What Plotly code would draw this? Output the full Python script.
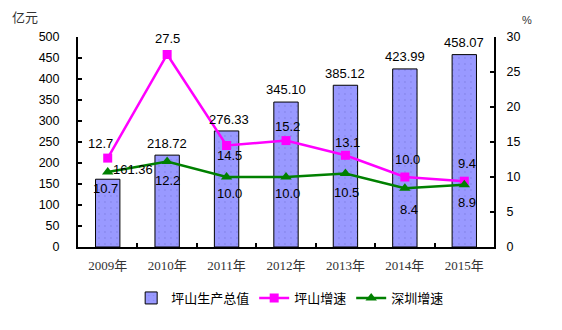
import plotly.graph_objects as go

# Data
years = ["2009年", "2010年", "2011年", "2012年", "2013年", "2014年", "2015年"]
gdp = [161.36, 218.72, 276.33, 345.10, 385.12, 423.99, 458.07]
gdp_text = ["161.36", "218.72", "276.33", "345.10", "385.12", "423.99", "458.07"]
ps_growth = [12.7, 27.5, 14.5, 15.2, 13.1, 10.0, 9.4]
sz_growth = [10.7, 12.2, 10.0, 10.0, 10.5, 8.4, 8.9]

# Label offsets in pixels (dx, dy) relative to each mark
gdp_off = [(25, 10), (0, 12), (2, 11), (0, 13), (0, 12), (0, 12), (0, 12)]
ps_off = [(-7, 15), (0, 16), (3, -10), (1, 14), (2, 13), (3, 18), (3, 18)]
sz_off = [(-2, -16), (0, -19), (3, -16), (1, -16), (1, -18.5), (4, -21), (3, -18)]

num_font = dict(family="Liberation Sans, Arial", size=13, color="#000000")
cjk_font = dict(family="Noto Sans CJK SC", size=13, color="#000000")

fig = go.Figure()

fig.add_trace(go.Bar(
    x=years, y=gdp, name="坪山生产总值",
    marker=dict(
        color="#9999ff",
        line=dict(color="#000000", width=1),
        pattern=dict(shape=".", fgcolor="#7a7ae0", bgcolor="#9999ff", size=6, solidity=0.08),
    ),
    width=0.41,
    yaxis="y",
))

fig.add_trace(go.Scatter(
    x=years, y=ps_growth, name="坪山增速", mode="lines+markers",
    line=dict(color="#ff00ff", width=2.5),
    marker=dict(symbol="square", size=9, color="#ff00ff"),
    yaxis="y2",
))

fig.add_trace(go.Scatter(
    x=years, y=sz_growth, name="深圳增速", mode="lines+markers",
    line=dict(color="#008000", width=2.5),
    marker=dict(symbol="triangle-up", size=10, color="#008000"),
    yaxis="y2",
))

annotations = []
for i, yr in enumerate(years):
    dx, dy = gdp_off[i]
    annotations.append(dict(x=yr, y=gdp[i], yref="y", xref="x", text=gdp_text[i],
                            showarrow=False, xshift=dx, yshift=dy, font=num_font,
                            xanchor="center", yanchor="middle"))
    dx, dy = ps_off[i]
    annotations.append(dict(x=yr, y=ps_growth[i], yref="y2", xref="x", text=f"{ps_growth[i]:.1f}",
                            showarrow=False, xshift=dx, yshift=dy, font=num_font,
                            xanchor="center", yanchor="middle"))
    dx, dy = sz_off[i]
    annotations.append(dict(x=yr, y=sz_growth[i], yref="y2", xref="x", text=f"{sz_growth[i]:.1f}",
                            showarrow=False, xshift=dx, yshift=dy, font=num_font,
                            xanchor="center", yanchor="middle"))

# Plot-area geometry in pixels
L, R, T, B = 78, 68, 37, 83
W, H = 562, 330
pw, ph = W - L - R, H - T - B

# Axis unit captions (pixel centres converted to paper coordinates)
for text, px, py, fnt in [("亿元", 25, 17, dict(family="Noto Sans CJK SC", size=13, color="#333333")),
                          ("%", 527, 20, dict(family="Liberation Sans", size=11, color="#333333"))]:
    annotations.append(dict(x=(px - L) / pw, y=(H - B - py) / ph, xref="paper", yref="paper",
                            text=text, showarrow=False, font=fnt,
                            xanchor="center", yanchor="middle"))

fig.update_layout(
    width=W, height=H,
    margin=dict(l=L, r=R, t=T, b=B, pad=0),
    paper_bgcolor="#ffffff", plot_bgcolor="#ffffff",
    showlegend=True,
    legend=dict(orientation="h", x=0.51, xanchor="center", y=-51 / ph,
                yanchor="middle", font=cjk_font, traceorder="normal",
                itemwidth=30, bgcolor="rgba(0,0,0,0)"),
    xaxis=dict(
        type="category", range=[-0.5, 6.5],
        showline=True, linecolor="#000000", linewidth=2,
        ticks="inside", tickson="boundaries", ticklen=4, tickwidth=2, tickcolor="#000000",
        tickfont=dict(family="Liberation Serif, Noto Sans CJK SC", size=13, color="#333333"),
        ticklabelstandoff=5,
        showgrid=False, zeroline=False,
    ),
    yaxis=dict(
        range=[0, 500], dtick=50,
        showline=True, linecolor="#000000", linewidth=2,
        ticks="inside", ticklen=4, tickwidth=2, tickcolor="#000000",
        tickfont=dict(family="Liberation Sans, Arial", size=12.5, color="#000000"),
        ticklabelstandoff=14,
        showgrid=False, zeroline=False,
    ),
    yaxis2=dict(
        range=[0, 30], dtick=5, overlaying="y", side="right",
        showline=True, linecolor="#000000", linewidth=2,
        ticks="inside", ticklen=4, tickwidth=2, tickcolor="#000000",
        tickfont=dict(family="Liberation Sans, Arial", size=12.5, color="#000000"),
        ticklabelstandoff=8,
        showgrid=False, zeroline=False,
    ),
    annotations=annotations,
    bargap=0.59,
)

fig.write_html("out.html")
